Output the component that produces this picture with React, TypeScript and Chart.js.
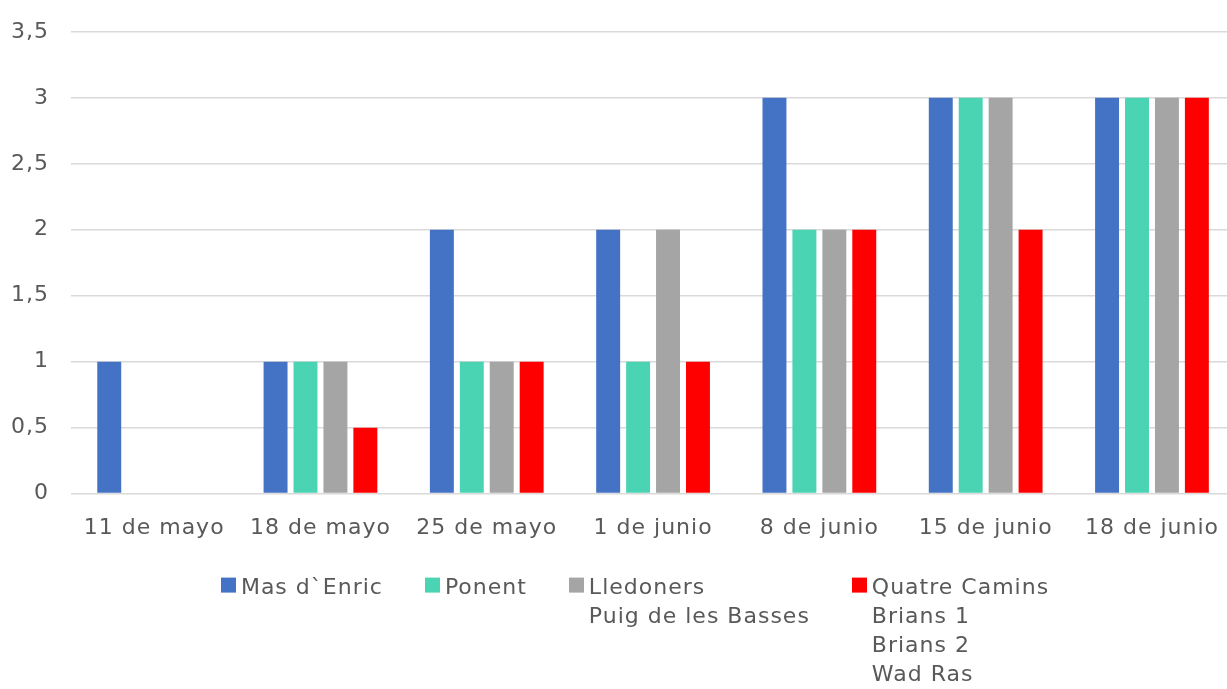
import React, { useEffect, useRef } from "react";
import { Chart, registerables } from "chart.js";

Chart.register(...registerables);

const categories = [
  "11 de mayo",
  "18 de mayo",
  "25 de mayo",
  "1 de junio",
  "8 de junio",
  "15 de junio",
  "18 de junio",
];

const masDEnric = [1, 1, 2, 2, 3, 3, 3];
const ponent = [0, 1, 1, 1, 2, 3, 3];
const lledoners = [0, 1, 1, 2, 2, 3, 3];
const quatreCamins = [0, 0.5, 1, 1, 2, 2, 3];

const legendLines = [
  ["Mas d`Enric"],
  ["Ponent"],
  ["Lledoners", "Puig de les Basses"],
  ["Quatre Camins", "Brians 1", "Brians 2", "Wad Ras"],
];

const seriesValues = [masDEnric, ponent, lledoners, quatreCamins];
const seriesColors = ["#4472C4", "#4AD4B4", "#A5A5A5", "#FF0000"];

const yMin = 0;
const yMax = 3.5;
const yStep = 0.5;

const FONT = "'DejaVu Sans', sans-serif";
const TEXT = "#595959";
const SPACING = "1px";

const spacingPlugin = {
  id: "letterSpacingPlugin",
  beforeUpdate(chart: any) {
    chart.ctx.letterSpacing = SPACING;
  },
  beforeLayout(chart: any) {
    chart.ctx.letterSpacing = SPACING;
  },
  beforeDraw(chart: any) {
    chart.ctx.letterSpacing = SPACING;
  },
};

// legend drawn below the x axis, multi-line labels
const LEGEND_CENTER = 635;
const LEGEND_OFFSET = 100; // first baseline below plot bottom
const LINE_H = 29;
const BOX = 15;
const BOX_GAP = 5;
const ITEM_GAP = 42;

const legendPlugin = {
  id: "multiLineLegend",
  afterDraw(chart: any) {
    const ctx = chart.ctx;
    ctx.save();
    ctx.letterSpacing = SPACING;
    ctx.font = `22px ${FONT}`;
    ctx.textAlign = "left";
    ctx.textBaseline = "alphabetic";
    const widths = legendLines.map((lines) =>
      Math.max(...lines.map((l) => ctx.measureText(l).width))
    );
    const itemW = widths.map((w) => BOX + BOX_GAP + w);
    const total = itemW.reduce((a, b) => a + b, 0) + ITEM_GAP * (itemW.length - 1);
    let x = LEGEND_CENTER - total / 2;
    const baseline = chart.chartArea.bottom + LEGEND_OFFSET;
    chart.data.datasets.forEach((ds: any, i: number) => {
      ctx.fillStyle = ds.backgroundColor;
      ctx.fillRect(Math.round(x), baseline - 16, BOX, BOX);
      ctx.fillStyle = TEXT;
      legendLines[i].forEach((line, j) => {
        ctx.fillText(line, x + BOX + BOX_GAP, baseline + j * LINE_H);
      });
      x += itemW[i] + ITEM_GAP;
    });
    ctx.restore();
  },
};

export default function App() {
  const ref = useRef<HTMLCanvasElement | null>(null);

  useEffect(() => {
    if (!ref.current) return;
    const chart = new Chart(ref.current, {
      type: "bar",
      data: {
        labels: categories,
        datasets: seriesValues.map((vals, i) => ({
          label: legendLines[i].join(" "),
          data: vals,
          backgroundColor: seriesColors[i],
          borderWidth: 0,
          categoryPercentage: 0.72,
          barPercentage: 0.8,
        })),
      },
      options: {
        animation: false,
        responsive: false,
        devicePixelRatio: 1,
        layout: { padding: { left: 0, right: 0, top: 20, bottom: 127 } },
        plugins: {
          tooltip: { enabled: false },
          legend: { display: false },
        },
        scales: {
          x: {
            grid: { display: false, drawTicks: false },
            border: { display: false },
            ticks: {
              color: TEXT,
              font: { family: FONT, size: 22 },
              padding: 21,
              maxRotation: 0,
              autoSkip: false,
            },
          },
          y: {
            min: yMin,
            max: yMax,
            afterFit: (scale: any) => {
              scale.width = 71;
            },
            grid: { color: "#D9D9D9", lineWidth: 1.5, drawTicks: false },
            border: { display: false },
            ticks: {
              stepSize: yStep,
              color: TEXT,
              font: { family: FONT, size: 22, lineHeight: 0.9 },
              padding: 22,
              callback: (v: any) => String(v).replace(".", ","),
            },
          },
        },
      },
      plugins: [spacingPlugin, legendPlugin],
    });
    return () => chart.destroy();
  }, []);

  return (
    <div
      style={{
        position: "fixed",
        left: 0,
        top: 0,
        width: 1227,
        height: 689,
        overflow: "hidden",
        background: "#fff",
      }}
    >
      <canvas ref={ref} width={1240} height={689} style={{ width: 1240, height: 689, display: "block" }} />
    </div>
  );
}
